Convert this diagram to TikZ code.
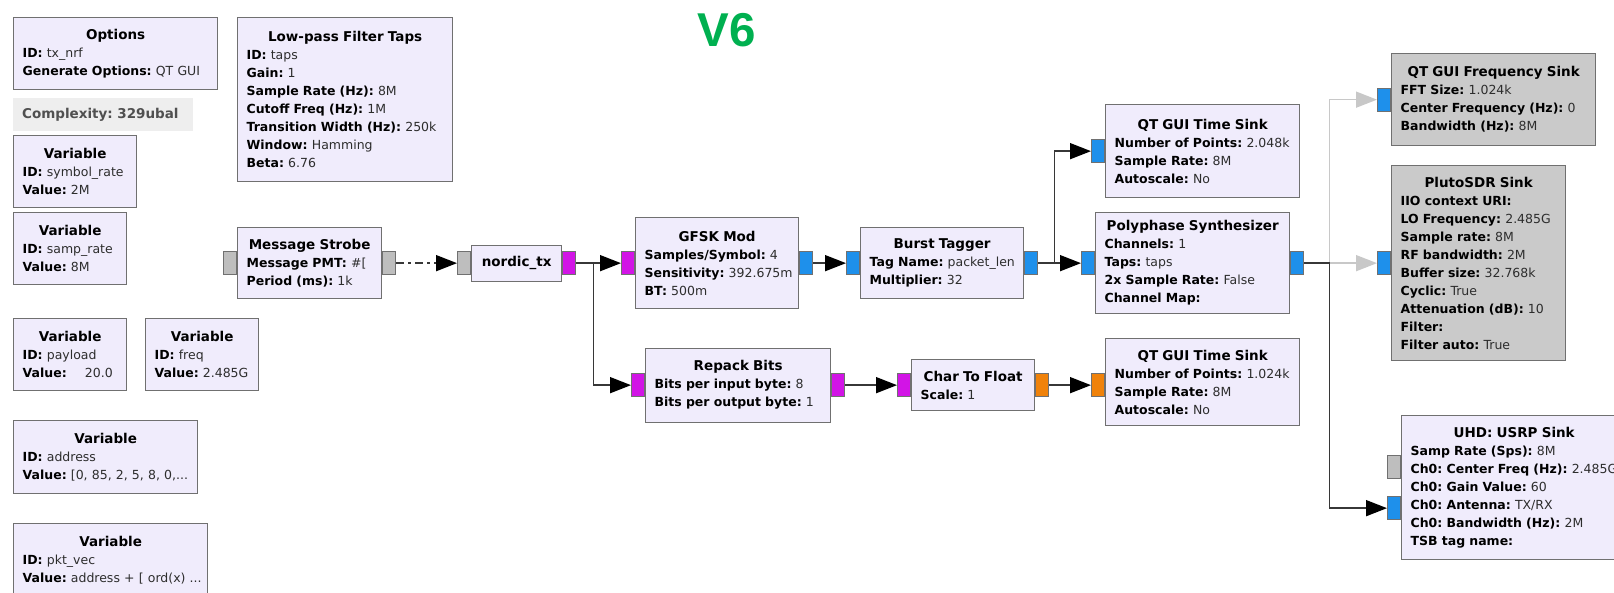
\documentclass[tikz,border=0pt]{standalone}
\usepackage{fontspec}
\setmainfont{DejaVu Sans}
\newfontfamily\titlefont{Liberation Sans}
\usepackage{tikz}
\usetikzlibrary{arrows.meta,positioning}
\usepackage{xcolor}
\setlength{\parindent}{0pt}
\frenchspacing

\definecolor{blkfill}{RGB}{240,236,252}
\definecolor{offfill}{RGB}{202,202,202}
\definecolor{blkline}{RGB}{112,112,112}
\definecolor{valtext}{RGB}{45,45,45}
\definecolor{pblue}{RGB}{30,144,235}
\definecolor{pmag}{RGB}{210,20,230}
\definecolor{porange}{RGB}{240,130,10}
\definecolor{pgray}{RGB}{190,190,190}
\definecolor{wire}{RGB}{55,55,55}
\definecolor{offwire}{RGB}{200,200,200}
\definecolor{vgreen}{RGB}{0,176,80}
\definecolor{cplxfill}{RGB}{238,238,238}
\definecolor{cplxtext}{RGB}{80,80,80}

\newcommand{\kv}[2]{\mbox{\textbf{#1:} \textcolor{valtext}{#2}}}
\newcommand{\blktitle}[1]{{\centering\fontsize{13.5}{18}\selectfont\bfseries #1\par}}

\begin{document}
\begin{tikzpicture}[x=1pt,y=-1pt,
   blk/.style 2 args={draw=blkline,line width=1.3pt,fill=blkfill,anchor=north west,
              align=left,inner xsep=9pt,inner ysep=0pt,text width=#1,minimum height=#2,
              font=\fontsize{12.5}{18}\selectfont},
   disabled/.style={fill=offfill},
   port/.style={draw=blkline,line width=1pt,minimum width=13pt,minimum height=23pt,inner sep=0pt},
   arr/.style={-{Triangle[length=21pt,width=16pt,black]},line width=1.6pt,draw=wire},
   msgarr/.style={arr,dash pattern=on 8pt off 4pt on 3pt off 4pt},
   offarr/.style={-{Triangle[length=21pt,width=16pt,offwire]},line width=1.6pt,draw=offwire}
 ]
  \useasboundingbox (0,0) rectangle (1614,592);

  % variables and settings, left column
  \node[blk={186pt}{72pt}] (options) at (13,17)
    {\blktitle{Options}\kv{ID}{tx\_nrf}\\\kv{Generate Options}{QT GUI}};
  \node[anchor=north west,fill=cplxfill,text=cplxtext,minimum height=33pt,inner xsep=9pt,
        text width=162pt,align=left,font=\fontsize{13.5}{18}\selectfont\bfseries]
    (complexity) at (13,98) {Complexity: 329ubal};
  \node[blk={105pt}{72pt}] (symrate) at (13,135)
    {\blktitle{Variable}\kv{ID}{symbol\_rate}\\\kv{Value}{2M}};
  \node[blk={95pt}{72pt}] (samprate) at (13,212)
    {\blktitle{Variable}\kv{ID}{samp\_rate}\\\kv{Value}{8M}};
  \node[blk={95pt}{72pt}] (payload) at (13,318)
    {\blktitle{Variable}\kv{ID}{payload}\\\kv{Value}{\hspace{14pt}20.0}};
  \node[blk={95pt}{72pt}] (freqvar) at (145,318)
    {\blktitle{Variable}\kv{ID}{freq}\\\kv{Value}{2.485G}};
  \node[blk={166pt}{73pt}] (address) at (13,420)
    {\blktitle{Variable}\kv{ID}{address}\\\kv{Value}{[0, 85, 2, 5, 8, 0,...}};
  \node[blk={176pt}{73pt}] (pktvec) at (13,523)
    {\blktitle{Variable}\kv{ID}{pkt\_vec}\\\kv{Value}{address + [ ord(x) ...}};
  \node[blk={197pt}{164pt}] (lpf) at (237,17)
    {\blktitle{Low-pass Filter Taps}\kv{ID}{taps}\\\kv{Gain}{1}\\\kv{Sample Rate (Hz)}{8M}\\
     \kv{Cutoff Freq (Hz)}{1M}\\\kv{Transition Width (Hz)}{250k}\\\kv{Window}{Hamming}\\
     \kv{Beta}{6.76}};

  \node[text=vgreen,font=\fontsize{47.5}{50}\selectfont\titlefont\bfseries] (version) at (727,30) {V6};

  % flow graph blocks
  \node[blk={126pt}{71pt}] (strobe) at (237,227)
    {\blktitle{Message Strobe}\kv{Message PMT}{\#[}\\\kv{Period (ms)}{1k}};
  \node[blk={72pt}{36pt}] (nordic) at (471,244.5) {\blktitle{nordic\_tx}};
  \node[blk={145pt}{91pt}] (gfsk) at (635,217)
    {\blktitle{GFSK Mod}\kv{Samples/Symbol}{4}\\\kv{Sensitivity}{392.675m}\\\kv{BT}{500m}};
  \node[blk={167pt}{74pt}] (repack) at (645,347.5)
    {\blktitle{Repack Bits}\kv{Bits per input byte}{8}\\\kv{Bits per output byte}{1}};
  \node[blk={145pt}{71pt}] (burst) at (860,227)
    {\blktitle{Burst Tagger}\kv{Tag Name}{packet\_len}\\\kv{Multiplier}{32}};
  \node[blk={105pt}{51pt}] (c2f) at (911,359)
    {\blktitle{Char To Float}\kv{Scale}{1}};
  \node[blk={176pt}{93pt}] (ts1) at (1105,104)
    {\blktitle{QT GUI Time Sink}\kv{Number of Points}{2.048k}\\\kv{Sample Rate}{8M}\\\kv{Autoscale}{No}};
  \node[blk={176pt}{101pt}] (poly) at (1095,212)
    {\blktitle{Polyphase Synthesizer}\kv{Channels}{1}\\\kv{Taps}{taps}\\\kv{2x Sample Rate}{False}\\
     \kv{Channel Map}{}};
  \node[blk={176pt}{87pt}] (ts2) at (1105,338)
    {\blktitle{QT GUI Time Sink}\kv{Number of Points}{1.024k}\\\kv{Sample Rate}{8M}\\\kv{Autoscale}{No}};
  \node[blk={186pt}{92pt},disabled] (fsink) at (1391,53)
    {\blktitle{QT GUI Frequency Sink}\kv{FFT Size}{1.024k}\\\kv{Center Frequency (Hz)}{0}\\
     \kv{Bandwidth (Hz)}{8M}};
  \node[blk={156pt}{195pt},disabled] (pluto) at (1391,165)
    {\blktitle{PlutoSDR Sink}\kv{IIO context URI}{}\\\kv{LO Frequency}{2.485G}\\\kv{Sample rate}{8M}\\
     \kv{RF bandwidth}{2M}\\\kv{Buffer size}{32.768k}\\\kv{Cyclic}{True}\\\kv{Attenuation (dB)}{10}\\
     \kv{Filter}{}\\\kv{Filter auto}{True}};
  \node[blk={207pt}{144pt}] (usrp) at (1401,415)
    {\blktitle{UHD: USRP Sink}\kv{Samp Rate (Sps)}{8M}\\\kv{Ch0: Center Freq (Hz)}{2.485G}\\
     \kv{Ch0: Gain Value}{60}\\\kv{Ch0: Antenna}{TX/RX}\\\kv{Ch0: Bandwidth (Hz)}{2M}\\
     \kv{TSB tag name}{}};

  % ports
  \node[port,fill=pgray,left=0pt of strobe] (strobe-in) {};
  \node[port,fill=pgray,right=0pt of strobe] (strobe-out) {};
  \node[port,fill=pgray,left=0pt of nordic] (nordic-in) {};
  \node[port,fill=pmag,right=0pt of nordic] (nordic-out) {};
  \node[port,fill=pmag,left=0pt of gfsk] (gfsk-in) {};
  \node[port,fill=pblue,right=0pt of gfsk] (gfsk-out) {};
  \node[port,fill=pmag,left=0pt of repack] (repack-in) {};
  \node[port,fill=pmag,right=0pt of repack] (repack-out) {};
  \node[port,fill=pblue,left=0pt of burst] (burst-in) {};
  \node[port,fill=pblue,right=0pt of burst] (burst-out) {};
  \node[port,fill=pmag,left=0pt of c2f] (c2f-in) {};
  \node[port,fill=porange,right=0pt of c2f] (c2f-out) {};
  \node[port,fill=pblue,left=0pt of ts1] (ts1-in) {};
  \node[port,fill=pblue,left=0pt of poly] (poly-in) {};
  \node[port,fill=pblue,right=0pt of poly] (poly-out) {};
  \node[port,fill=porange,anchor=east] (ts2-in) at (ts2.west |- c2f.east) {};
  \node[port,fill=pblue,left=0pt of fsink] (fsink-in) {};
  \node[port,fill=pblue,left=0pt of pluto] (pluto-in) {};
  \node[port,fill=pgray,anchor=east] (usrp-cmd) at ([yshift=20.5pt]usrp.west) {};
  \node[port,fill=pblue,anchor=east] (usrp-in) at ([yshift=-20.5pt]usrp.west) {};

  % connections
  \path (nordic-out.east) ++(17,0) coordinate (split1);
  \path (burst-out.east) ++(16,0) coordinate (split2);
  \path (poly-out.east) ++(25,0) coordinate (split3);
  \draw[msgarr] (strobe-out) -- (nordic-in);
  \draw[arr] (nordic-out) -- (gfsk-in);
  \draw[arr] (split1) |- (repack-in);
  \draw[arr] (gfsk-out) -- (burst-in);
  \draw[arr] (burst-out) -- (poly-in);
  \draw[arr] (split2) |- (ts1-in);
  \draw[arr] (repack-out) -- (c2f-in);
  \draw[arr] (c2f-out) -- (ts2-in);
  \draw[offarr] (split3) |- (fsink-in);
  \draw[offarr] (split3) -- (pluto-in);
  \draw[arr] (poly-out) -- (split3) |- (usrp-in);
\end{tikzpicture}
\end{document}
